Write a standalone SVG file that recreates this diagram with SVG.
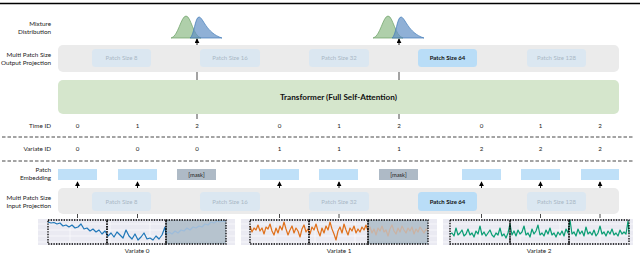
<svg xmlns="http://www.w3.org/2000/svg" width="640" height="255" viewBox="0 0 640 255">
<defs>
<marker id="ah" viewBox="0 0 6 6" refX="5" refY="3" markerWidth="5" markerHeight="5" orient="auto" markerUnits="userSpaceOnUse">
<path d="M0,0 L6,3 L0,6 Z" fill="#000"/>
</marker>
<style>
text{font-family:"Lato","Open Sans","DejaVu Sans",sans-serif}
.lbl{font-size:6.3px;fill:#222;text-anchor:end}
.num{font-size:6.2px;fill:#222;text-anchor:middle}
.band{fill:#ebebeb}
.pf{fill:#dbe7f1}
.pt{font-size:6px;fill:#a9b7c5;text-anchor:middle}
.ph{fill:#b9ddf7}
.pht{font-size:6px;fill:#111;text-anchor:middle;font-weight:bold}
.emb{fill:#bfe0f8}
.mask{fill:#aebac6}
.mt{font-size:5.8px;fill:#222;text-anchor:middle}
.dash{stroke:#333;stroke-width:0.9;stroke-dasharray:3.5,2;fill:none}
.tick{stroke:#333;stroke-width:0.9}
.arr{stroke:#000;stroke-width:0.9;marker-end:url(#ah)}
.bg{fill:#eaeaf2}
.grid{stroke:#fff;stroke-width:0.6}
.box{fill:none;stroke:#000;stroke-width:1.3;stroke-dasharray:1.4,1.2}
.mbox{fill:#b6c3ce}
.ser{fill:none;stroke-width:1.2;stroke-linejoin:round}
.vl{font-size:6.3px;fill:#222;text-anchor:middle}
</style>
</defs>
<rect width="640" height="255" fill="#fff"/>
<line x1="0" y1="3.5" x2="640" y2="3.5" stroke="#000" stroke-width="1.3"/>

<!-- row labels -->
<g id="row-labels">
<text class="lbl" x="51" y="26">Mixture</text>
<text class="lbl" x="51" y="34">Distribution</text>
<text class="lbl" x="51" y="57">Multi Patch Size</text>
<text class="lbl" x="51" y="65">Output Projection</text>
<text class="lbl" x="51" y="128">Time ID</text>
<text class="lbl" x="51" y="151">Variate ID</text>
<text class="lbl" x="51" y="172">Patch</text>
<text class="lbl" x="51" y="180">Embedding</text>
<text class="lbl" x="51" y="200">Multi Patch Size</text>
<text class="lbl" x="51" y="208">Input Projection</text>
</g>

<!-- mixture distributions -->
<g id="dist-1">
<path d="M171,38 C178,37 181,16 186,16 C191,16 193,36 201,38 Z" fill="#8dbb86" fill-opacity="0.7" stroke="#6a9f64" stroke-width="0.7"/>
<path d="M190,38 C194,36 195,17 199,17 C203,17 206,33 222,38 Z" fill="#5f8fc4" fill-opacity="0.7" stroke="#3f7ab8" stroke-width="0.7"/>
</g>
<g id="dist-2">
<path d="M373,38 C380,37 383,16 388,16 C393,16 395,36 403,38 Z" fill="#8dbb86" fill-opacity="0.7" stroke="#6a9f64" stroke-width="0.7"/>
<path d="M392,38 C396,36 397,17 401,17 C405,17 408,33 424,38 Z" fill="#5f8fc4" fill-opacity="0.7" stroke="#3f7ab8" stroke-width="0.7"/>
</g>

<!-- output projection -->
<g id="output-projection">
<rect class="band" x="58" y="45" width="561" height="27" rx="5"/>
<rect class="pf" x="92" y="49" width="59" height="18" rx="3.5"/>
<text class="pt" x="121.5" y="60">Patch Size 8</text>
<rect class="pf" x="200" y="49" width="60" height="18" rx="3.5"/>
<text class="pt" x="230" y="60">Patch Size 16</text>
<rect class="pf" x="309" y="49" width="60" height="18" rx="3.5"/>
<text class="pt" x="339" y="60">Patch Size 32</text>
<rect class="ph" x="418" y="49" width="59" height="18" rx="3.5"/>
<text class="pht" x="447.5" y="60">Patch Size 64</text>
<rect class="pf" x="527" y="49" width="59" height="18" rx="3.5"/>
<text class="pt" x="556.5" y="60">Patch Size 128</text>
</g>

<!-- transformer -->
<g id="transformer">
<rect x="58" y="80" width="561" height="34" rx="5" fill="#d5e6cc"/>
<text x="338.5" y="100" font-size="8.2" font-weight="bold" text-anchor="middle" fill="#111">Transformer (Full Self-Attention)</text>
</g>

<!-- IDs -->
<g id="time-id">
<text class="num" x="77.5" y="128">0</text>
<text class="num" x="137.5" y="128">1</text>
<text class="num" x="197" y="128">2</text>
<text class="num" x="279.5" y="128">0</text>
<text class="num" x="339" y="128">1</text>
<text class="num" x="399" y="128">2</text>
<text class="num" x="481.5" y="128">0</text>
<text class="num" x="540.5" y="128">1</text>
<text class="num" x="600" y="128">2</text>
</g>
<g id="variate-id">
<text class="num" x="77.5" y="151">0</text>
<text class="num" x="137.5" y="151">0</text>
<text class="num" x="197" y="151">0</text>
<text class="num" x="279.5" y="151">1</text>
<text class="num" x="339" y="151">1</text>
<text class="num" x="399" y="151">1</text>
<text class="num" x="481.5" y="151">2</text>
<text class="num" x="540.5" y="151">2</text>
<text class="num" x="600" y="151">2</text>
</g>

<!-- patch embeddings -->
<g id="patch-embedding">
<rect class="emb" x="58" y="169" width="39" height="11"/>
<rect class="emb" x="118" y="169" width="39" height="11"/>
<rect class="mask" x="177" y="169" width="39" height="11"/>
<text class="mt" x="196.5" y="176.8">[mask]</text>
<rect class="emb" x="260" y="169" width="39" height="11"/>
<rect class="emb" x="319" y="169" width="39" height="11"/>
<rect class="mask" x="379" y="169" width="39" height="11"/>
<text class="mt" x="398.5" y="176.8">[mask]</text>
<rect class="emb" x="462" y="169" width="39" height="11"/>
<rect class="emb" x="521" y="169" width="39" height="11"/>
<rect class="emb" x="581" y="169" width="38" height="11"/>
</g>

<!-- input projection -->
<g id="input-projection">
<rect class="band" x="58" y="188" width="561" height="26" rx="5"/>
<rect class="pf" x="92" y="192" width="59" height="19" rx="3.5"/>
<text class="pt" x="121.5" y="203.5">Patch Size 8</text>
<rect class="pf" x="200" y="192" width="60" height="19" rx="3.5"/>
<text class="pt" x="230" y="203.5">Patch Size 16</text>
<rect class="pf" x="309" y="192" width="60" height="19" rx="3.5"/>
<text class="pt" x="339" y="203.5">Patch Size 32</text>
<rect class="ph" x="418" y="192" width="59" height="19" rx="3.5"/>
<text class="pht" x="447.5" y="203.5">Patch Size 64</text>
<rect class="pf" x="527" y="192" width="59" height="19" rx="3.5"/>
<text class="pt" x="556.5" y="203.5">Patch Size 128</text>
</g>

<!-- connectors -->
<g id="connectors">
<line class="dash" x1="2" y1="137" x2="633" y2="137"/>
<line class="dash" x1="2" y1="161" x2="633" y2="161"/>
<line class="arr" x1="197" y1="45" x2="197" y2="39"/>
<line class="arr" x1="399" y1="45" x2="399" y2="39"/>
<line class="tick" x1="197" y1="72" x2="197" y2="80"/>
<line class="tick" x1="399" y1="72" x2="399" y2="80"/>
<line class="tick" x1="197" y1="114" x2="197" y2="119"/>
<line class="tick" x1="399" y1="114" x2="399" y2="119"/>
<line class="arr" x1="77.5" y1="188" x2="77.5" y2="182"/>
<line class="arr" x1="137.5" y1="188" x2="137.5" y2="182"/>
<line class="arr" x1="279.5" y1="188" x2="279.5" y2="182"/>
<line class="arr" x1="339" y1="188" x2="339" y2="182"/>
<line class="arr" x1="481.5" y1="188" x2="481.5" y2="182"/>
<line class="arr" x1="540.5" y1="188" x2="540.5" y2="182"/>
<line class="arr" x1="600" y1="188" x2="600" y2="182"/>
<line class="tick" x1="77.5" y1="214" x2="77.5" y2="218"/>
<line class="tick" x1="137.5" y1="214" x2="137.5" y2="218"/>
<line class="tick" x1="279.5" y1="214" x2="279.5" y2="218"/>
<line class="tick" x1="339" y1="214" x2="339" y2="218"/>
<line class="tick" x1="481.5" y1="214" x2="481.5" y2="218"/>
<line class="tick" x1="540.5" y1="214" x2="540.5" y2="218"/>
<line class="tick" x1="600" y1="214" x2="600" y2="218"/>
</g>

<!-- variate 0 -->
<g id="variate-0">
<rect class="bg" x="38" y="219" width="197" height="26"/>
<path class="grid" d="M38,224H235M38,230H235M38,236H235M38,242H235M70,219V245M110,219V245M150,219V245M190,219V245"/>
<rect class="mbox" x="166" y="220" width="60" height="24"/>
<polyline class="ser" stroke="#1f77b8" points="48,222 51,223 54,222.5 57,224 60,223 63,226 66,225 69,227 72,225 75,228 78,227 81,224 84,229 87,228 90,231 93,229 96,232 99,230 102,234 105,231 108,236 111,233 114,237 117,232 120,235 123,238 126,230 129,236 132,239 135,234 138,240 141,237 144,233 147,239 150,238 153,240 156,236 159,239 162,235 165,227 166,235"/>
<polyline class="ser" stroke="#9dbcda" points="166,235 169,232 172,234 175,231 178,233 181,230 184,231 187,228 190,230 193,227 196,228 199,226 202,227 205,224 208,225 211,222 214,223 217,221 220,222 223,221 226,222"/>
<rect class="box" x="48" y="220" width="59" height="24"/>
<rect class="box" x="107" y="220" width="59" height="24"/>
<rect class="box" x="166" y="220" width="60" height="24"/>
<text class="vl" x="137" y="253">Variate 0</text>
</g>

<!-- variate 1 -->
<g id="variate-1">
<rect class="bg" x="241" y="219" width="196" height="26"/>
<path class="grid" d="M241,224H437M241,230H437M241,236H437M241,242H437M275,219V245M315,219V245M355,219V245M395,219V245"/>
<rect class="mbox" x="368" y="220" width="60" height="24"/>
<polyline class="ser" stroke="#e0701a" points="250,226 252,232 254,228 256,230 258,225 260,231 262,228 264,234 266,227 268,229 270,224 272,231 274,235 276,228 278,233 280,226 282,230 284,222 286,229 288,235 290,230 292,226 294,233 296,228 298,231 300,237 302,229 304,225 306,232 308,229 310,234 312,227 314,230 316,224 318,231 320,236 322,228 324,233 326,226 328,230 330,222 332,229 334,234 336,240 338,231 340,227 342,233 344,224 346,230 348,235 350,228 352,231 354,226 356,233 358,229 360,232 362,227 364,230 366,225 368,231"/>
<polyline class="ser" stroke="#cbb2a2" points="368,231 370,227 372,233 374,229 376,235 378,228 380,231 382,226 384,232 386,230 388,236 390,229 392,225 394,231 396,234 398,228 400,232 402,226 404,230 406,233 408,228 410,231 412,227 414,234 416,229 418,232 420,227 422,230 424,233 426,229 428,231"/>
<rect class="box" x="250" y="220" width="59" height="24"/>
<rect class="box" x="309" y="220" width="59" height="24"/>
<rect class="box" x="368" y="220" width="60" height="24"/>
<text class="vl" x="339" y="253">Variate 1</text>
</g>

<!-- variate 2 -->
<g id="variate-2">
<rect class="bg" x="443" y="219" width="190" height="26"/>
<path class="grid" d="M443,224H633M443,230H633M443,236H633M443,242H633M480,219V245M520,219V245M560,219V245M600,219V245"/>
<polyline class="ser" stroke="#0a9e74" points="450,234 452,233 454,236 456,228 458,235 460,233 462,230 464,236 466,234 468,229 470,235 472,233 474,237 476,231 478,234 480,226 482,235 484,232 486,236 488,233 490,230 492,235 494,237 496,233 498,235 500,228 502,236 504,234 506,238 508,233 510,224 512,235 514,231 516,236 518,230 520,234 522,232 524,226 526,235 528,233 530,237 532,229 534,234 536,231 538,225 540,235 542,233 544,236 546,230 548,234 550,228 552,235 554,233 556,237 558,232 560,235 562,231 564,236 566,229 568,233 570,220 572,234 574,232 576,236 578,229 580,234 582,231 584,236 586,227 588,234 590,232 592,235 594,230 596,236 598,233 600,226 602,234 604,232 606,236 608,231 610,234 612,229 614,235 616,233 618,236 620,230 622,234 624,232 626,234 628,221 629,233"/>
<rect class="box" x="450" y="220" width="60" height="24"/>
<rect class="box" x="510" y="220" width="59" height="24"/>
<rect class="box" x="569" y="220" width="60" height="24"/>
<text class="vl" x="539" y="253">Variate 2</text>
</g>
</svg>
